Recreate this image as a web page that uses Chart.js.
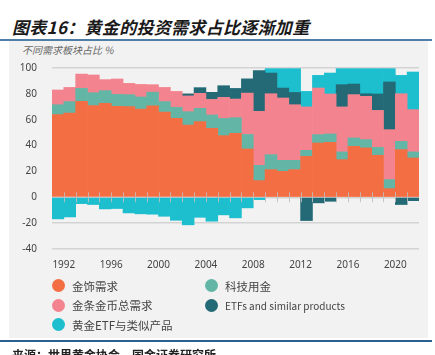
<!DOCTYPE html>
<html><head><meta charset="utf-8">
<script src="https://cdn.jsdelivr.net/npm/chart.js@4/dist/chart.umd.min.js"></script>
<style>
html,body{margin:0;padding:0;background:#fff;width:435px;height:355px;overflow:hidden;font-family:"Noto Sans CJK SC","Noto Sans",sans-serif;}
#title{position:absolute;left:12px;top:14px;font-size:17px;font-weight:bold;font-style:italic;color:#1a1a1a;white-space:nowrap;letter-spacing:0.3px;}
#tline{position:absolute;left:0;top:39px;width:432px;height:2px;background:#4f7fa6;}
#panel{position:absolute;left:9px;top:41px;width:419px;height:297px;background:#f2f2f2;}
#sub{position:absolute;left:22px;top:42px;font-size:10px;font-style:italic;color:#666;white-space:nowrap;}
#cv{position:absolute;left:0;top:0;}
#legend{position:absolute;left:52px;top:279px;display:grid;grid-template-columns:153px 200px;row-gap:6.5px;}
.li{display:flex;align-items:center;height:13px;font-size:11.5px;color:#444;white-space:nowrap;}
.li .dot{width:13px;height:13px;border-radius:50%;margin-right:7px;flex:none;}
.li.small{font-size:10px;}
#bline{position:absolute;left:0;top:340px;width:432px;height:2px;background:#2a5f8f;}
#src{position:absolute;left:12px;top:346px;font-size:12px;font-weight:bold;color:#222;white-space:nowrap;}
</style></head>
<body>
<div id="title">图表16：黄金的投资需求占比逐渐加重</div>
<div id="tline"></div>
<div id="panel"></div>
<div id="sub">不同需求板块占比 %</div>
<canvas id="cv" width="435" height="280"></canvas>
<div id="legend"></div>
<div id="bline"></div>
<div id="src">来源：世界黄金协会，国金证券研究所</div>
<script>
const years = [1992,1993,1994,1995,1996,1997,1998,1999,2000,2001,2002,2003,2004,2005,2006,2007,2008,2009,2010,2011,2012,2013,2014,2015,2016,2017,2018,2019,2020,2021,2022];
const tickYears = [1992,1996,2000,2004,2008,2012,2016,2020];
const jewelry = [63.9,65.2,74.2,70.9,72.7,70.3,70.1,68.3,70.8,66,61,55.8,58.5,53.3,47.7,49.5,37.4,12.9,21.4,20.1,21.4,31.7,42,42.5,29.1,39.4,38.2,32.5,6.7,36.9,30.4];
const technology = [7.7,8.8,10,10,9.8,9.3,9.3,9.3,10.5,8,8.6,10.4,10.3,10.4,13.3,12.1,11.2,11.8,11.6,8.5,7.2,4.6,6.5,6.5,6,6.5,6.4,6.1,7,6.4,4.7];
const barCoin = [11.4,11,11.1,13.7,8.5,11.9,8.7,9.7,5.8,11,12.3,12.2,11.6,12,16.3,14.4,32,41.8,47.1,48.2,43,33.6,36,30.9,34.8,33.5,33.5,28.6,38.6,36.8,32.7];
const etfs = [null,null,null,null,null,null,null,null,null,null,null,1.5,4.4,5.5,9,8.2,11,31.5,16,7.7,9.5,-18,-4.3,-3.1,17.2,8.2,2,12.7,36.9,-5.6,-2.6];
const goldEtf = [-16.7,-15.2,-4.9,-5.6,-9,-8.7,-12.1,-12.8,-13.1,-14.7,-17.8,-21.3,-15.5,-18.5,-13.6,-15.9,-8.2,-1.8,3.4,15,18.4,12,9.8,16.2,12.4,11.9,19.4,19.6,10.3,14.2,29.1];
const seriesNames = ['金饰需求','科技用金','金条金币总需求','ETFs and similar products','黄金ETF与类似产品'];
const seriesColors = ['#f36e43','#63b6a6','#f3848f','#236a76','#1dbfcf'];
const seriesData = [jewelry, technology, barCoin, etfs, goldEtf];

const toPts = arr => arr.map((v,i)=>({x: years[i]-0.5, y: v}));

const zeroTicks = {
  id:'zeroTicks',
  afterDatasetsDraw(chart){
    const {ctx, scales:{x,y}} = chart;
    const y0 = y.getPixelForValue(0);
    ctx.save();
    ctx.strokeStyle='rgba(190,190,190,0.85)';
    ctx.lineWidth=1;
    for(let i=0;i<years.length-1;i++){
      const px = Math.round(x.getPixelForValue(years[i]))+0.5;
      ctx.beginPath(); ctx.moveTo(px,y0-5); ctx.lineTo(px,y0+5); ctx.stroke();
    }
    ctx.restore();
  }
};

const chart = new Chart(document.getElementById('cv'),{
  type:'bar',
  data:{datasets: seriesData.map((d,i)=>({label:seriesNames[i], data:toPts(d), backgroundColor:seriesColors[i], borderWidth:0, barPercentage:1, categoryPercentage:1}))},
  options:{
    responsive:false, animation:false,
    layout:{padding:{left:0,right:16,top:68,bottom:0}},
    plugins:{legend:{display:false},tooltip:{enabled:false}},
    scales:{
      x:{type:'linear',stacked:true,min:1991,max:2022,offset:false,
        grid:{display:false,drawTicks:false},border:{display:false},
        afterBuildTicks(s){ s.ticks = tickYears.map(v=>({value:v})); },
        afterFit(s){ s.height = 31; },
        ticks:{padding:10,color:'#444',font:{family:'Noto Sans',size:10},callback:v=>String(v),maxRotation:0,autoSkip:false}
      },
      y:{stacked:true,min:-40,max:100,
        grid:{color:'#d3d3d3',lineWidth:1.5,drawTicks:false},border:{display:false},
        afterFit(s){ s.width = 52; },
        ticks:{stepSize:20,padding:15,color:'#444',font:{family:'Noto Sans',size:10}}
      }
    }
  },
  plugins:[zeroTicks]
});

const lg = document.getElementById('legend');
chart.data.datasets.forEach(ds=>{
  const d=document.createElement('div');
  d.className='li'+(/^[A-Za-z]/.test(ds.label)?' small':'');
  d.innerHTML='<span class="dot" style="background:'+ds.backgroundColor+'"></span><span></span>';
  d.lastChild.textContent=ds.label;
  lg.appendChild(d);
});
</script>
</body></html>
